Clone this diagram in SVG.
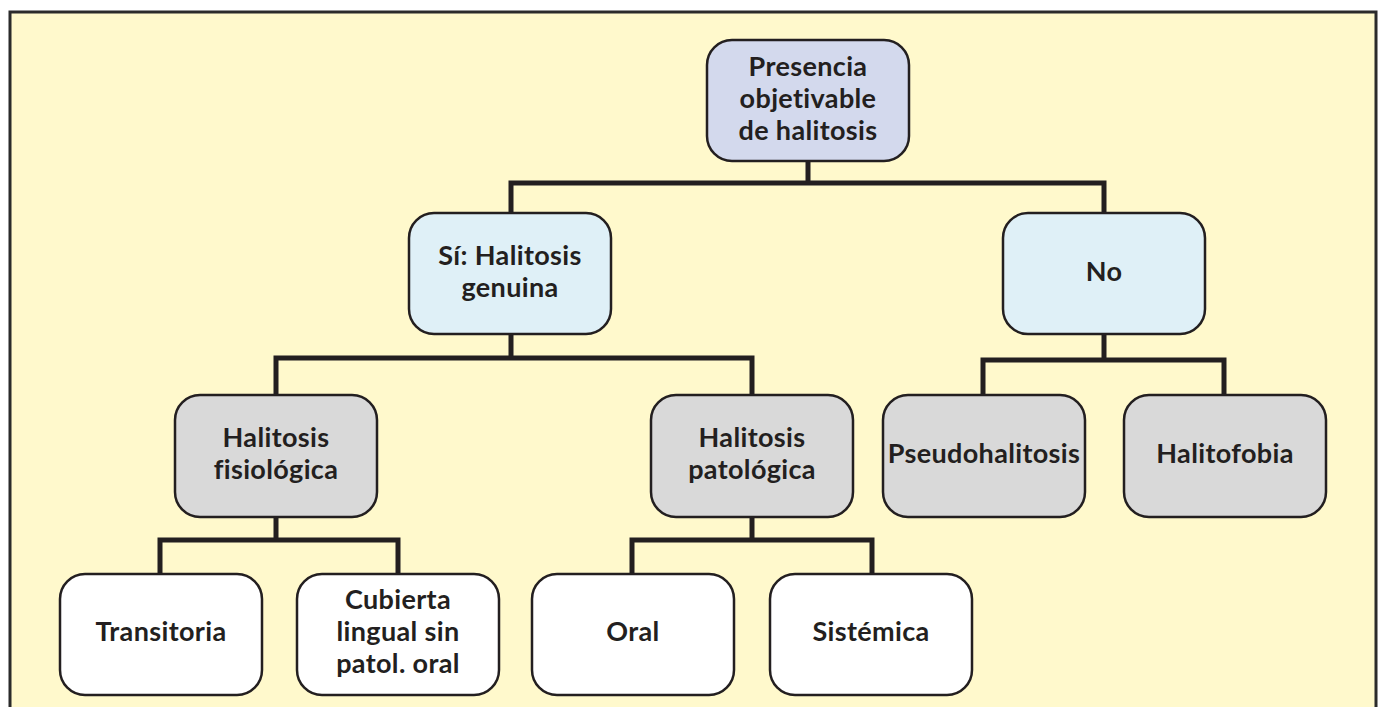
<svg xmlns="http://www.w3.org/2000/svg" width="1382" height="707" viewBox="0 0 1382 707">
<style>
.n{stroke:#231f20;stroke-width:2.5}
.t{font-family:Lato,"Open Sans",sans-serif;font-weight:bold;font-size:27px;letter-spacing:0.35px;fill:#231f20;text-anchor:middle}
.c{fill:none;stroke:#231f20;stroke-width:5}
.l1{fill:#d3d9ed}.l2{fill:#dff0f7}.l3{fill:#d9d9d9}.l4{fill:#ffffff}
</style>
<rect x="0" y="0" width="1382" height="707" fill="#ffffff"/>
<path d="M10 720 V12 H1376 V720" fill="#fff9cc" stroke="#2b2b2b" stroke-width="3"/>
<g id="connectors">
<path class="c" d="M808 161 V183 M511 213 V183 H1104 V213"/>
<path class="c" d="M511 334 V358 M276 395 V358 H752 V395"/>
<path class="c" d="M1104 334 V360 M983 395 V360 H1224 V395"/>
<path class="c" d="M276 517 V540 M160 574 V540 H398 V574"/>
<path class="c" d="M752 517 V540 M632 574 V540 H872 V574"/>
</g>
<g id="n-presencia"><rect class="n l1" x="707" y="40" width="202" height="121" rx="25"/><text class="t" x="808" y="76">Presencia</text><text class="t" x="808" y="108">objetivable</text><text class="t" x="808" y="140">de halitosis</text></g>
<g id="n-si"><rect class="n l2" x="409" y="213" width="202" height="121" rx="25"/><text class="t" x="510" y="265">Sí: Halitosis</text><text class="t" x="510" y="297">genuina</text></g>
<g id="n-no"><rect class="n l2" x="1003" y="213" width="202" height="121" rx="25"/><text class="t" x="1104" y="281">No</text></g>
<g id="n-fisiologica"><rect class="n l3" x="175" y="395" width="202" height="122" rx="25"/><text class="t" x="276" y="447">Halitosis</text><text class="t" x="276" y="479">fisiológica</text></g>
<g id="n-patologica"><rect class="n l3" x="651" y="395" width="202" height="122" rx="25"/><text class="t" x="752" y="447">Halitosis</text><text class="t" x="752" y="479">patológica</text></g>
<g id="n-pseudo"><rect class="n l3" x="883" y="395" width="202" height="122" rx="25"/><text class="t" x="984" y="463">Pseudohalitosis</text></g>
<g id="n-fobia"><rect class="n l3" x="1124" y="395" width="202" height="122" rx="25"/><text class="t" x="1225" y="463">Halitofobia</text></g>
<g id="n-transitoria"><rect class="n l4" x="60" y="574" width="202" height="121" rx="25"/><text class="t" x="161" y="641">Transitoria</text></g>
<g id="n-cubierta"><rect class="n l4" x="297" y="574" width="202" height="121" rx="25"/><text class="t" x="398" y="609">Cubierta</text><text class="t" x="398" y="641">lingual sin</text><text class="t" x="398" y="673">patol. oral</text></g>
<g id="n-oral"><rect class="n l4" x="532" y="574" width="202" height="121" rx="25"/><text class="t" x="633" y="641">Oral</text></g>
<g id="n-sistemica"><rect class="n l4" x="770" y="574" width="202" height="121" rx="25"/><text class="t" x="871" y="641">Sistémica</text></g>
</svg>
